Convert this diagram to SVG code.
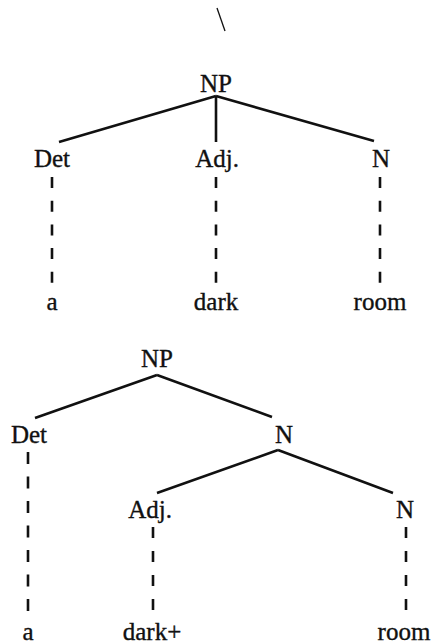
<svg xmlns="http://www.w3.org/2000/svg" width="433" height="644" viewBox="0 0 433 644">
<style>
text{font-family:"Liberation Serif","Times New Roman",serif;font-size:25px;fill:#111;stroke:#111;stroke-width:0.35;text-anchor:middle}
.e{stroke:#111;stroke-width:2.6;fill:none;stroke-linecap:butt}
.d{stroke:#111;stroke-width:2.6;fill:none;stroke-dasharray:11 12.7}
.d2{stroke:#111;stroke-width:2.6;fill:none;stroke-dasharray:12 12.5}
.d3{stroke:#111;stroke-width:2.6;fill:none;stroke-dasharray:11 13}
</style>
<rect width="433" height="644" fill="#fff"/>
<line x1="217" y1="8" x2="225" y2="31" stroke="#111" stroke-width="1.3"/>
<g id="connectors">
<path class="e" d="M216 96 L59 142 M216 96 L374 141"/>
<path class="e" d="M216 96 L216 142" stroke-width="3.4"/>
<path class="d" d="M52 177 V283 M216 177 V283 M380 177 V283"/>
<path class="e" d="M157 375 L35 418 M157 375 L272 417"/>
<path class="e" d="M278 450 L157 493 M278 450 L393 493"/>
<path class="d2" d="M28 452 V612"/>
<path class="d3" d="M153 527 V610 M406 527 V610"/>
</g>
<g id="np1"><text x="216" y="92">NP</text></g>
<g id="det1"><text x="52" y="167">Det</text></g>
<g id="adj1"><text x="217" y="167">Adj.</text></g>
<g id="n1"><text x="381" y="167">N</text></g>
<g id="a1"><text x="52" y="310">a</text></g>
<g id="dark1"><text x="216" y="310">dark</text></g>
<g id="room1"><text x="380" y="310">room</text></g>
<g id="np2"><text x="157" y="367">NP</text></g>
<g id="det2"><text x="29" y="443">Det</text></g>
<g id="n2"><text x="284" y="443">N</text></g>
<g id="adj2"><text x="150" y="518">Adj.</text></g>
<g id="n3"><text x="405" y="518">N</text></g>
<g id="a2"><text x="28" y="640">a</text></g>
<g id="dark2"><text x="152" y="640">dark+</text></g>
<g id="room2"><text x="404" y="640">room</text></g>
</svg>
